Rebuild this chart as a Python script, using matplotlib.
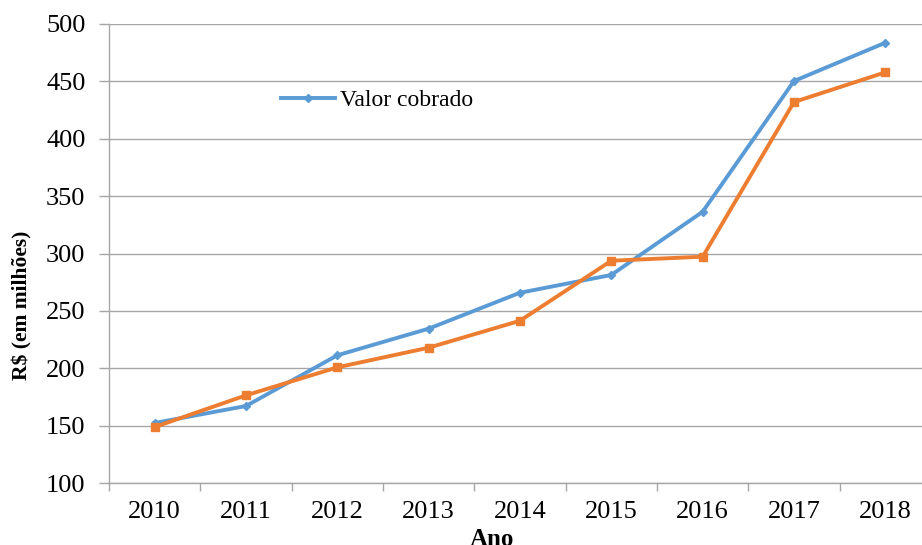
import matplotlib.pyplot as plt
import numpy as np

years = ["2010", "2011", "2012", "2013", "2014", "2015", "2016", "2017", "2018"]
valor_cobrado = [152.3, 167.1, 211.3, 234.5, 265.8, 281.3, 336.4, 450.3, 483.7]
valor_arrecadado = [148.8, 176.4, 200.8, 217.9, 241.4, 293.7, 297.2, 432.0, 457.9]
y_ticks = [100, 150, 200, 250, 300, 350, 400, 450, 500]

BLUE = "#5B9BD5"
ORANGE = "#ED7D31"
GRID = "#a6a6a6"

plt.rcParams["font.family"] = ["Liberation Serif", "DejaVu Serif"]

W, H = 922, 545
fig = plt.figure(figsize=(W / 100, H / 100), dpi=100)
ax = fig.add_axes([109 / W, 1 - 483 / H, (931 - 109) / W, (483 - 24) / H])

x = np.arange(len(years))
line_b, = ax.plot(x, valor_cobrado, color=BLUE, lw=2.8, marker="D",
                  markersize=4.5, label="Valor cobrado", zorder=3)
ax.plot(x, valor_arrecadado, color=ORANGE, lw=2.8, marker="s",
        markersize=6, zorder=3)

ax.set_xlim(-0.5, len(years) - 0.5)
ax.set_ylim(100, 500)
ax.set_yticks(y_ticks)
ax.set_yticklabels([str(v) for v in y_ticks], fontsize=19)
ax.set_xticks(x)
ax.set_xticklabels(years, fontsize=19)
ax.set_xticks(np.arange(-0.5, len(years)), minor=True)
ax.tick_params(axis="x", which="major", length=0, pad=13)
ax.tick_params(axis="x", which="minor", length=6, color=GRID, width=1)
ax.tick_params(axis="y", length=7, color=GRID, width=1, pad=10)

ax.grid(axis="y", color=GRID, lw=1)
ax.set_axisbelow(True)
for s in ["top", "right"]:
    ax.spines[s].set_visible(False)
for s in ["left", "bottom"]:
    ax.spines[s].set_color(GRID)
    ax.spines[s].set_linewidth(1)

fig.text(22 / W, 1 - 305 / H, "R$ (em milhões)", rotation=90, fontsize=15.5,
         fontweight="bold", ha="center", va="center")
fig.text(492 / W, 1 - 540 / H, "Ano", fontsize=18, fontweight="bold",
         ha="center", va="center")

ax.legend(handles=[line_b], loc="center left", frameon=False,
          bbox_to_anchor=(281 / W, 1 - 100 / H), bbox_transform=fig.transFigure,
          borderaxespad=0, borderpad=0, handlelength=2.3, handletextpad=0.2,
          fontsize=17)

fig.savefig("out.png", dpi=100)
